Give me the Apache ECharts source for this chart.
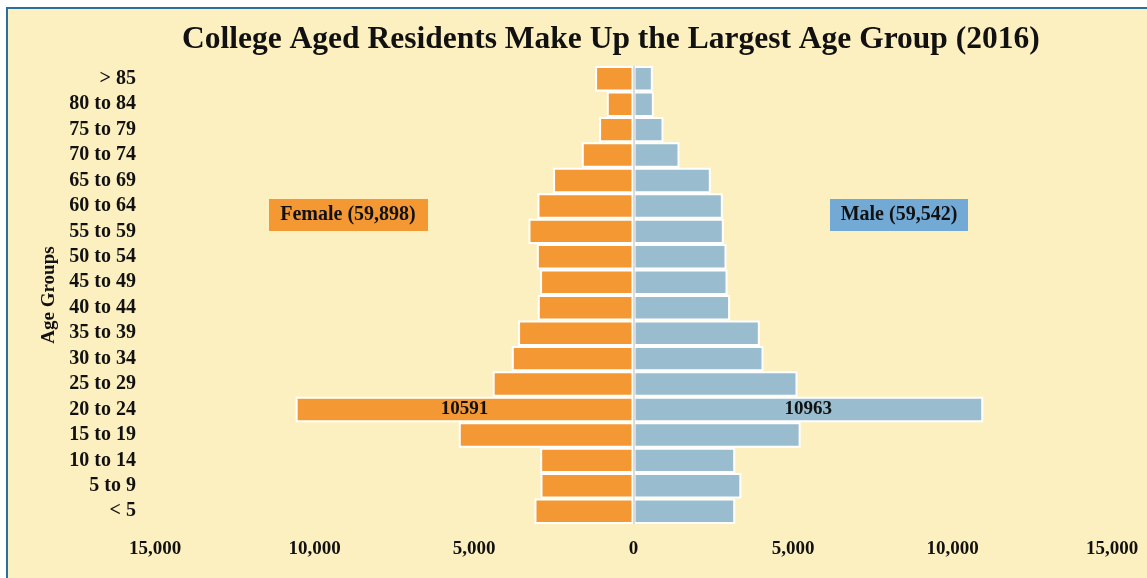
<!DOCTYPE html>
<html>
<head>
<meta charset="utf-8">
<script src="https://cdn.jsdelivr.net/npm/echarts@6/dist/echarts.min.js"></script>
<style>
  html, body { margin: 0; padding: 0; background: #ffffff; }
  #frame {
    position: absolute; left: 6px; top: 7px; width: 1141px; height: 571px;
    background: #FDF0C0;
    border-left: 2px solid #2b6f9e;
    border-top: 2px solid #2b6f9e;
    box-sizing: border-box;
  }
  #pyramid { position: absolute; left: 0; top: 0; width: 1147px; height: 578px; }
</style>
</head>
<body>
<div id="frame"></div>
<div id="pyramid"></div>
<script>
  // age groups, bottom to top (category y axis starts from the bottom)
  var ageGroups = ['< 5', '5 to 9', '10 to 14', '15 to 19', '20 to 24', '25 to 29', '30 to 34',
    '35 to 39', '40 to 44', '45 to 49', '50 to 54', '55 to 59', '60 to 64', '65 to 69',
    '70 to 74', '75 to 79', '80 to 84', '> 85'];
  var female = [3104, 2915, 2925, 5477, 10591, 4415, 3815, 3618, 3000, 2928, 3030, 3292,
    3010, 2521, 1621, 1079, 837, 1204];
  var male = [3188, 3380, 3188, 5239, 10963, 5141, 4075, 3960, 3028, 2947, 2915, 2831,
    2800, 2423, 1442, 940, 637, 605];
  var labelledGroup = '20 to 24';
  var femaleTotal = '59,898';
  var maleTotal = '59,542';

  var serif = '"Liberation Serif", "DejaVu Serif", serif';
  var chart = echarts.init(document.getElementById('pyramid'), null, { renderer: 'canvas' });

  function fmt(v) {
    return Math.abs(v).toString().replace(/\B(?=(\d{3})+(?!\d))/g, ',');
  }

  function barData(vals, sign) {
    return vals.map(function (v, i) {
      var item = { value: sign * v };
      if (ageGroups[i] === labelledGroup) {
        item.label = {
          show: true, position: 'inside', color: '#111',
          fontFamily: serif, fontWeight: 'bold', fontSize: 19,
          formatter: function (p) { return Math.abs(p.value); }
        };
      }
      return item;
    });
  }

  var option = {
    backgroundColor: 'transparent',
    title: {
      text: 'College Aged Residents Make Up the Largest Age Group (2016)',
      left: 177, top: 19,
      textStyle: { fontFamily: serif, fontWeight: 'bold', fontSize: 31.5, color: '#111' }
    },
    grid: { left: 155, right: 35, top: 66, bottom: 54, containLabel: false },
    xAxis: {
      type: 'value', min: -15000, max: 15000, interval: 5000,
      axisLine: { show: false }, axisTick: { show: false }, splitLine: { show: false },
      axisLabel: {
        margin: 16, color: '#111', fontFamily: serif, fontWeight: 'bold', fontSize: 19,
        formatter: fmt
      }
    },
    yAxis: {
      type: 'category', data: ageGroups,
      name: 'Age Groups', nameLocation: 'middle', nameRotate: 90, nameGap: 95,
      nameTextStyle: { fontFamily: serif, fontWeight: 'bold', fontSize: 19, color: '#111' },
      axisLine: { show: false }, axisTick: { show: false },
      axisLabel: {
        interval: 0, hideOverlap: false,
        margin: 19, color: '#111', fontFamily: serif, fontWeight: 'bold', fontSize: 20
      }
    },
    series: [
      {
        name: 'Female', type: 'bar', stack: 'pop', barCategoryGap: '0%',
        data: barData(female, -1),
        itemStyle: { color: '#F39833', borderColor: '#ffffff', borderWidth: 2 },
        markLine: {
          silent: true, symbol: 'none', label: { show: false },
          lineStyle: { color: '#dcdcdc', width: 2, type: 'solid' },
          data: [{ xAxis: 0 }]
        }
      },
      {
        name: 'Male', type: 'bar', stack: 'pop', barCategoryGap: '0%',
        data: barData(male, 1),
        itemStyle: { color: '#99BCCF', borderColor: '#ffffff', borderWidth: 2 }
      }
    ],
    graphic: [
      { type: 'rect', shape: { x: 269, y: 199, width: 159, height: 32 }, style: { fill: '#F39833' } },
      {
        type: 'text', x: 348, y: 215,
        style: {
          text: 'Female (' + femaleTotal + ')', align: 'center', verticalAlign: 'middle',
          fill: '#111', font: 'bold 20px ' + serif
        }
      },
      { type: 'rect', shape: { x: 830, y: 199, width: 138, height: 32 }, style: { fill: '#72A9D5' } },
      {
        type: 'text', x: 899, y: 215,
        style: {
          text: 'Male (' + maleTotal + ')', align: 'center', verticalAlign: 'middle',
          fill: '#111', font: 'bold 20px ' + serif
        }
      }
    ]
  };

  chart.setOption(option, true);
</script>
</body>
</html>
